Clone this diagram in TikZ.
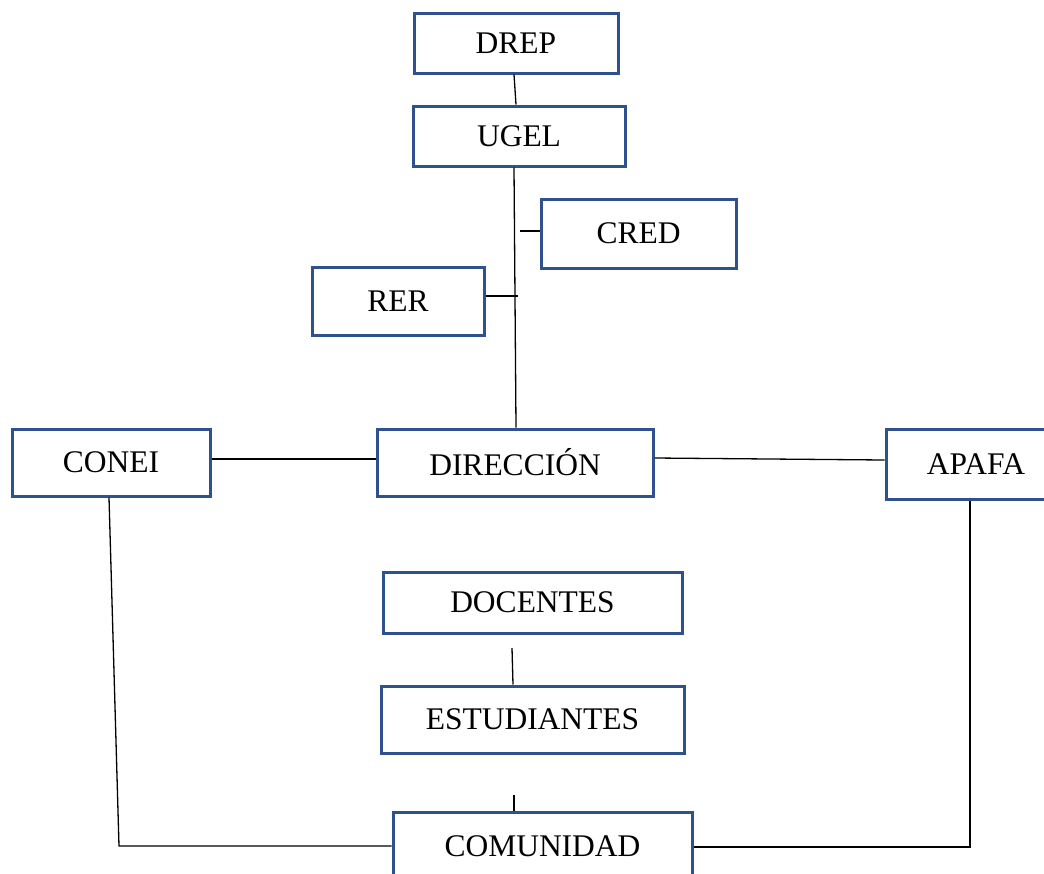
\documentclass[tikz,border=0pt]{standalone}
\usepackage{fontspec}
\setmainfont{Liberation Serif}
\usepackage{tikz}
\usetikzlibrary{positioning}
\definecolor{cajaazul}{HTML}{2F528F}
\tikzset{
  caja/.style={draw=cajaazul, line width=3pt, fill=white, inner sep=0pt,
    font=\fontsize{31.5}{36}\selectfont},
  linea/.style={black, line width=1.3pt}
}

\begin{document}
\begin{tikzpicture}[x=1pt, y=-1pt]
            \useasboundingbox (0,0) rectangle (1044,873);
            \node[caja, minimum width=204pt, minimum height=60pt] (drep) at (516,43) {DREP};
            \node[caja, minimum width=212pt, minimum height=60pt] (ugel) at (519,136) {UGEL};
            \node[caja, minimum width=195pt, minimum height=69pt] (cred) at (638.5,233.5) {CRED};
            \node[caja, minimum width=172pt, minimum height=68pt] (rer) at (398,301) {RER};
            \node[caja, minimum width=198pt, minimum height=67pt] (conei) at (111,462.5) {CONEI};
            \node[caja, minimum width=276pt, minimum height=67pt] (direccion) at (515,462.5) {DIRECCIÓN};
            \node[caja, minimum width=180pt, minimum height=70pt] (apafa) at (976,464) {APAFA};
            \node[caja, minimum width=299pt, minimum height=61pt] (docentes) at (532.5,602.5) {DOCENTES};
            \node[caja, minimum width=303pt, minimum height=67pt] (estudiantes) at (532.5,719.5) {ESTUDIANTES};
            \node[caja, minimum width=299pt, minimum height=68pt] (comunidad) at (542.5,846) {COMUNIDAD};

            \coordinate (tcred) at (520,231);
            \coordinate (trer) at (518,296);
            \coordinate (esqi) at (119,846);
            \coordinate (esqd) at (970,847);
            \coordinate (tdoc) at (512,648);
            \coordinate (test) at (514,795);

            \draw[linea] ([xshift=-2pt]drep.south) -- ([xshift=-3pt]ugel.north);
            \draw[linea] ([xshift=-5pt]ugel.south) -- ([xshift=1pt]direccion.north);
            \draw[linea] (tcred) -- (tcred -| cred.west);
            \draw[linea] (trer -| rer.east) -- (trer);
            \draw[linea] ([yshift=3.5pt]conei.east) -- ([yshift=3.5pt]direccion.west);
            \draw[linea] ([yshift=4.5pt]direccion.east) -- ([yshift=4pt]apafa.west);
            \draw[linea] ([xshift=-2pt]conei.south) -- (esqi) -- (esqi -| comunidad.west);
            \draw[linea] (apafa.south -| esqd) -- (esqd) -- (esqd -| comunidad.east);
            \draw[linea] (tdoc) -- ([xshift=1pt]tdoc |- estudiantes.north);
            \draw[linea] (test) -- (test |- comunidad.north);
        \end{tikzpicture}
\end{document}
